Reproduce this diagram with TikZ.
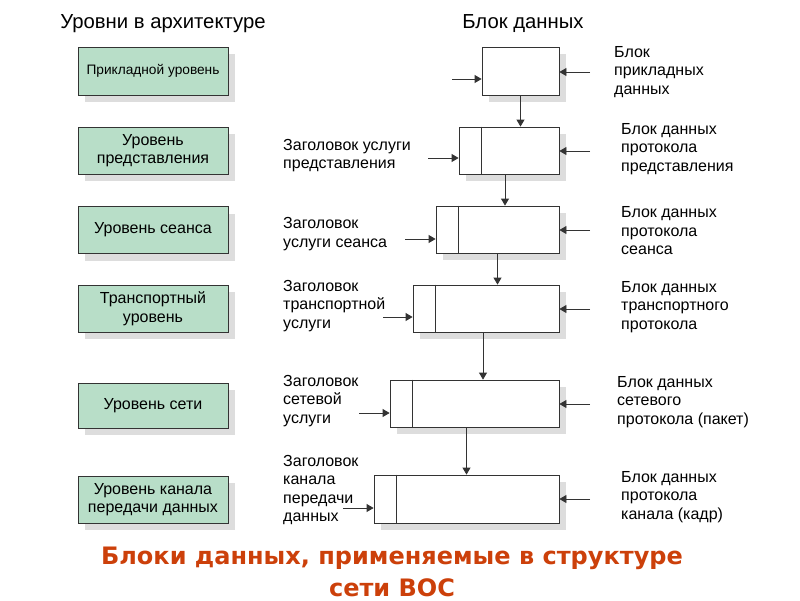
\documentclass[tikz,border=0pt]{standalone}
\usepackage{fontspec}
\setmainfont{Liberation Sans}
\newfontfamily\capfont{DejaVu Sans}
\usetikzlibrary{arrows.meta,positioning,calc,shadows}
\definecolor{layergreen}{RGB}{184,222,200}
\definecolor{shadowgray}{RGB}{221,221,221}
\definecolor{captionred}{RGB}{204,64,10}
\tikzset{
  osi/shade/.style={drop shadow={shadow xshift=7pt, shadow yshift=-7pt, fill=shadowgray, opacity=1}},
  osi/layer/.style={draw=black!80, line width=0.8pt, fill=layergreen, osi/shade, minimum width=150pt, minimum height=47pt, align=center, inner sep=2pt, font=\fontsize{16}{18.5}\selectfont},
  osi/block/.style={draw=black!80, line width=0.8pt, fill=white, osi/shade, minimum height=47pt, inner sep=0pt},
  osi/divider/.style={draw=black!80, line width=0.8pt},
  osi/label/.style={anchor=west, align=left, inner sep=0pt, font=\fontsize{16}{18.5}\selectfont},
  osi/head/.style={inner sep=0pt, font=\fontsize{20.3}{22}\selectfont},
  osi/flow/.style={-{Triangle[width=8pt,length=7pt]}, draw=black!80, line width=0.8pt},
  osi/caption/.style={align=center, inner sep=0pt, text=captionred, font=\capfont\fontsize{24}{32}\selectfont\bfseries}
}

\begin{document}
\begin{tikzpicture}[x=1pt, y=-1pt]
  \useasboundingbox (0,0) rectangle (800,600);

  \node[osi/head] (levels) at (163,24) {Уровни в архитектуре};
  \node[osi/head] (blocks) at (523,24) {Блок данных};

  % layers
  \node[osi/layer, minimum height=48pt, font=\fontsize{13.7}{16}\selectfont] (lay1) at (153,71) {Прикладной уровень};
  \node[osi/layer] (lay2) at (153,150.5) {Уровень\\представления};
  \node[osi/layer] (lay3) at (153,230) {Уровень сеанса};
  \node[osi/layer] (lay4) at (153,308.5) {Транспортный\\уровень};
  \node[osi/layer, minimum height=45pt] (lay5) at (153,405.5) {Уровень сети};
  \node[osi/layer] (lay6) at (153,499.5) {Уровень канала\\передачи данных};

  % data blocks
  \node[osi/block, minimum width=77pt, minimum height=48pt] (blk1) at (520.5,71) {};
  \node[osi/block, minimum width=100pt] (blk2) at (509,150.5) {};
  \node[osi/block, minimum width=123pt] (blk3) at (497.5,229.5) {};
  \node[osi/block, minimum width=146pt] (blk4) at (486,308.5) {};
  \node[osi/block, minimum width=169pt] (blk5) at (474.5,403.5) {};
  \node[osi/block, minimum width=185pt, minimum height=48pt] (blk6) at (466.5,499) {};

  \foreach \b in {blk2,blk3,blk4,blk5,blk6}
    \draw[osi/divider] ([xshift=23pt]\b.north west) -- ([xshift=23pt]\b.south west);

  \draw[osi/flow] (blk1.south) -- (blk1.south |- blk2.north);
  \draw[osi/flow] ([xshift=-4pt]blk2.south) -- ([xshift=-4pt]blk2.south |- blk3.north);
  \draw[osi/flow] (blk3.south) -- (blk3.south |- blk4.north);
  \draw[osi/flow] ([xshift=-3pt]blk4.south) -- ([xshift=-3pt]blk4.south |- blk5.north);
  \draw[osi/flow] ([xshift=-8pt]blk5.south) -- ([xshift=-8pt]blk5.south |- blk6.north);

  % headers in
  \coordinate (hin1) at (452,79);
  \coordinate (hin2) at (428,158);
  \coordinate (hin3) at (405,239);
  \coordinate (hin4) at (383,317);
  \coordinate (hin5) at (359,413);
  \coordinate (hin6) at (343,508);
  % data in
  \coordinate (din1) at (590,72);
  \coordinate (din2) at (590,151);
  \coordinate (din3) at (590,230);
  \coordinate (din4) at (590,309);
  \coordinate (din5) at (590,404);
  \coordinate (din6) at (590,499);
  \foreach \i in {1,...,6}{
    \draw[osi/flow] (hin\i) -- (hin\i -| blk\i.west);
    \draw[osi/flow] (din\i) -- (din\i -| blk\i.east);
  }

  \node[osi/label] (hdr2) at (283,155.5) {Заголовок услуги\\представления};
  \node[osi/label] (hdr3) at (283,234) {Заголовок\\услуги сеанса};
  \node[osi/label] (hdr4) at (283,306) {Заголовок\\транспортной\\услуги};
  \node[osi/label] (hdr5) at (283,401) {Заголовок\\сетевой\\услуги};
  \node[osi/label] (hdr6) at (283,490) {Заголовок\\канала\\передачи\\данных};

  \node[osi/label] (dat1) at (614,72) {Блок\\прикладных\\данных};
  \node[osi/label] (dat2) at (621,149) {Блок данных\\протокола\\представления};
  \node[osi/label] (dat3) at (621,231) {Блок данных\\протокола\\сеанса};
  \node[osi/label] (dat4) at (621,307) {Блок данных\\транспортного\\протокола};
  \node[osi/label] (dat5) at (617,402) {Блок данных\\сетевого\\протокола (пакет)};
  \node[osi/label] (dat6) at (621,497) {Блок данных\\протокола\\канала (кадр)};

  \node[osi/caption] (caption) at (392,572) {Блоки данных, применяемые в структуре\\сети ВОС};
\end{tikzpicture}
\end{document}
